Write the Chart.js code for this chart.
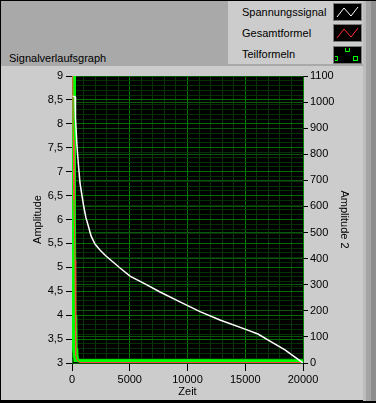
<!DOCTYPE html>
<html>
<head>
<meta charset="utf-8">
<script src="https://cdn.jsdelivr.net/npm/chart.js@4.4.1/dist/chart.umd.min.js"></script>
<style>
  html, body { margin: 0; padding: 0; }
  body { width: 376px; height: 403px; position: relative; overflow: hidden; background: #000;
         font-family: "Liberation Sans", Arial, sans-serif; color: #000; }
  #head { position: absolute; left: 1px; top: 1px; width: 362px; height: 65px; background: #a9a9a9; }
  #title { position: absolute; left: 8px; top: 51px; font-size: 11px; }
  #legend { position: absolute; left: 228px; top: 1px; width: 135px; height: 63px; background: #cccccc; }
  .row { position: absolute; left: 14px; font-size: 11px; line-height: 14px; }
  .icon { position: absolute; left: 105px; width: 27px; height: 16px; background: #000; border: 1px solid #7a7a7a; }
  #panel { position: absolute; left: 1px; top: 66px; width: 362px; height: 334px; background: #cccccc; }
  #edge { position: absolute; left: 363px; top: 1px; width: 13px; height: 400px;
          background: linear-gradient(to right, #bcbcbc 0 3px, #a4a4a4 3px 8px, #8e8e8e 8px 13px); }
  #wrap { position: absolute; left: 1px; top: 66px; width: 361px; height: 334px; }
</style>
</head>
<body>
<div id="head"><div id="title">Signalverlaufsgraph</div></div>
<div id="legend">
  <div class="row" style="top:4px">Spannungssignal</div>
  <div class="icon" style="top:2px">
    <svg width="27" height="16"><polyline points="3,13 10,4 17,12 24,3" fill="none" stroke="#fff" stroke-width="1"/></svg>
  </div>
  <div class="row" style="top:25px">Gesamtformel</div>
  <div class="icon" style="top:23px">
    <svg width="27" height="16"><polyline points="3,13 10,4 17,12 24,3" fill="none" stroke="#ff3030" stroke-width="1"/></svg>
  </div>
  <div class="row" style="top:46px">Teilformeln</div>
  <div class="icon" style="top:45px">
    <svg width="27" height="16">
      <polyline points="11.5,1 11.5,4.5 15.5,4.5 15.5,1" fill="none" stroke="#00ff00" stroke-width="1"/>
      <polyline points="1,9.5 3.5,9.5 3.5,13.5 1,13.5" fill="none" stroke="#00ff00" stroke-width="1"/>
      <rect x="19.5" y="9.5" width="4" height="4" fill="none" stroke="#00ff00" stroke-width="1"/>
    </svg>
  </div>
</div>
<div id="panel"></div>
<div id="edge"></div>
<div id="wrap"><canvas id="graph" width="361" height="334"></canvas></div>
<script>
// Spannungssignal (Amplitude 2)
const signalTime = [60, 260, 300, 430, 560, 690, 870, 1040, 1210, 1390, 1650, 1990, 2420, 2940, 3550, 4160,
  5020, 6320, 7620, 9350, 11080, 12810, 14980, 16100, 17140, 18440, 20000];
const signalValues = [1023, 1020, 943, 832, 759, 690, 640, 594, 556, 529, 487, 456, 433, 410, 387, 364,
  333, 303, 272, 234, 197, 165, 130, 111, 84, 50, 0];

// Gesamtformel (Amplitude)
const totalTime = [0, 60, 113, 173, 260, 290, 346, 433, 693, 20000];
const totalValues = [9.1, 9.0, 7.66, 6.41, 5.15, 3.69, 3.17, 3.06, 3.01, 3.01];

// Teilformeln (Amplitude)
const partTimeA = [0, 10, 30, 60, 80, 120, 140, 200, 260, 20000];
const partValuesA = [9.2, 9.0, 6.0, 5.9, 4.0, 3.9, 3.3, 3.2, 3.05, 3.04];
const partTimeB = [170, 175, 200, 230, 260, 330, 360, 420, 480, 600, 20000];
const partValuesB = [9.2, 9.0, 6.0, 5.9, 4.0, 3.9, 3.3, 3.2, 3.05, 3.04, 3.04];

const toPoints = (xs, ys) => xs.map((x, i) => ({ x: x, y: ys[i] }));
const isHalf = (v) => Math.abs(v * 2 - Math.round(v * 2)) < 1e-6;
const fmt = (v) => String(Math.round(v * 10) / 10).replace('.', ',');

Chart.defaults.font.family = '"Liberation Sans", Arial, sans-serif';
Chart.defaults.font.size = 11;
Chart.defaults.color = '#000';

const plotBackground = {
  id: 'plotBackground',
  beforeDraw(chart) {
    const { ctx, chartArea: a } = chart;
    ctx.save();
    ctx.fillStyle = '#000';
    ctx.fillRect(a.left, a.top, a.right - a.left, a.bottom - a.top);
    ctx.restore();
  },
};

const line = { pointRadius: 0, tension: 0, fill: false };

new Chart(document.getElementById('graph'), {
  type: 'line',
  data: {
    datasets: [
      { ...line, label: 'Spannungssignal', data: toPoints(signalTime, signalValues), yAxisID: 'y2',
        borderColor: '#ffffff', borderWidth: 1.5 },
      { ...line, label: 'Gesamtformel', data: toPoints(totalTime, totalValues), yAxisID: 'y',
        borderColor: '#ff4040', borderWidth: 1 },
      { ...line, label: 'Teilformeln', data: toPoints(partTimeA, partValuesA), yAxisID: 'y',
        borderColor: '#00ff00', borderWidth: 3 },
      { ...line, label: 'Teilformeln', data: toPoints(partTimeB, partValuesB), yAxisID: 'y',
        borderColor: '#00ff00', borderWidth: 3 },
    ],
  },
  options: {
    responsive: false,
    animation: false,
    layout: { padding: { top: 10, left: 0, right: 0, bottom: 0 } },
    plugins: { legend: { display: false }, tooltip: { enabled: false } },
    scales: {
      x: {
        type: 'linear', min: 0, max: 20000,
        ticks: { stepSize: 1000, autoSkip: false, maxRotation: 0, padding: 2,
          callback: (v) => (v % 5000 === 0 ? String(v) : '') },
        grid: { tickLength: 8,
          color: (c) => (c.tick && c.tick.value % 5000 === 0 ? '#008200' : '#0a340a'),
          tickColor: (c) => (c.tick && c.tick.value % 5000 === 0 ? '#000' : 'rgba(0,0,0,0)') },
        border: { display: false },
        title: { display: true, text: 'Zeit', padding: { top: 0, bottom: 1 } },
        afterFit: (s) => { s.height = 37; },
      },
      y: {
        position: 'left', min: 3, max: 9,
        ticks: { stepSize: 0.1, autoSkip: false, padding: 3,
          callback: (v) => (isHalf(v) ? fmt(v) : '') },
        grid: { tickLength: 6,
          color: (c) => (c.tick && isHalf(c.tick.value) ? '#006e00' : '#053205'),
          tickColor: (c) => (c.tick && isHalf(c.tick.value) ? '#000' : 'rgba(0,0,0,0)') },
        border: { display: false },
        title: { display: true, text: 'Amplitude', padding: { top: 30, bottom: 0 } },
        afterFit: (s) => { s.width = 71; },
      },
      y2: {
        position: 'right', min: 0, max: 1100,
        ticks: { stepSize: 100, autoSkip: false, padding: 2, callback: (v) => String(v) },
        grid: { tickLength: 5, color: '#0a560a', tickColor: '#000' },
        border: { display: false },
        title: { display: true, text: 'Amplitude 2', padding: { top: 11, bottom: 0 } },
        afterFit: (s) => { s.width = 59; },
      },
    },
  },
  plugins: [plotBackground],
});
</script>
</body>
</html>
